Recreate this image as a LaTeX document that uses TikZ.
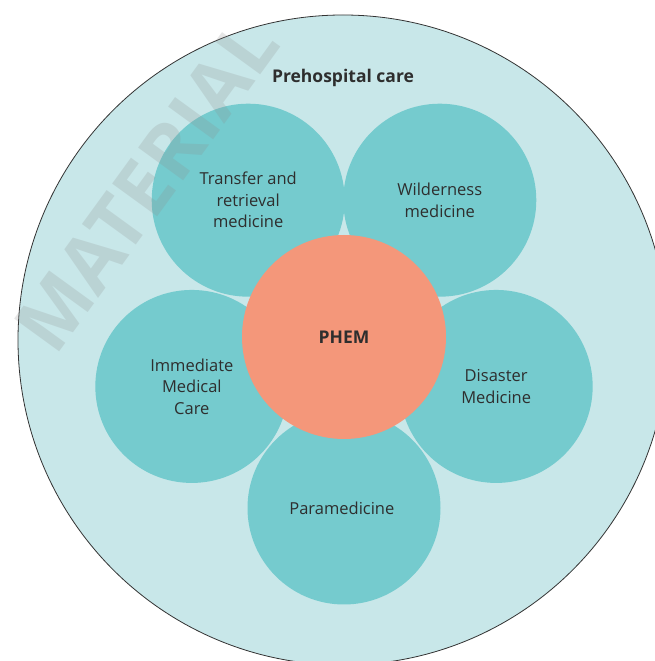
\documentclass[tikz,border=0pt]{standalone}
\usepackage{fontspec}
\setmainfont{Open Sans}
\usetikzlibrary{positioning}
\definecolor{carebg}{HTML}{C8E7E9}
\definecolor{satfill}{HTML}{75CBCE}
\definecolor{phemfill}{HTML}{F4977A}
\definecolor{inktext}{HTML}{2E2E2E}

\begin{document}
\begin{tikzpicture}[x=1pt, y=1pt,
  satellite/.style={circle, fill=satfill, minimum size=193pt, inner sep=0pt, align=center, text=inktext, font=\fontsize{16.5}{21.5}\selectfont},
  hub/.style={circle, fill=phemfill, minimum size=204pt, inner sep=0pt, text=inktext, font=\fontsize{17.5}{20}\selectfont\bfseries}]
 \useasboundingbox (0,0) rectangle (654,661);

 % outer ring
 \node[circle, draw=black!80, line width=0.8pt, fill=carebg, minimum size=650pt, inner sep=0pt] (care) at (343,321) {};
 \node[text=inktext, font=\fontsize{17.5}{20}\selectfont\bfseries] (title) at (343,583) {Prehospital care};

 % the five fields round the hub
 \coordinate (mid) at (344,324);
 \foreach \ang/\dist/\nm/\lbl in { 125/167/transfer/{Transfer and\\retrieval\\medicine}, 55/167/wild/{Wilderness\\medicine}, 198/160/immediate/{Immediate\\Medical\\Care}, 342/160/disaster/{Disaster\\Medicine}, 270/171/para/{Paramedicine} } {
         \node[satellite] (\nm) at ([shift={(\ang:\dist)}]mid) {\lbl};
 }

 % hub
 \node[hub] (phem) at (mid) {PHEM};

 % watermark
 \node[rotate=54, text=black!45, opacity=0.22, inner sep=0pt, font=\fontsize{78}{78}\selectfont\bfseries] (mark) at (146,476) {MATERIAL};

\end{tikzpicture}
\end{document}
